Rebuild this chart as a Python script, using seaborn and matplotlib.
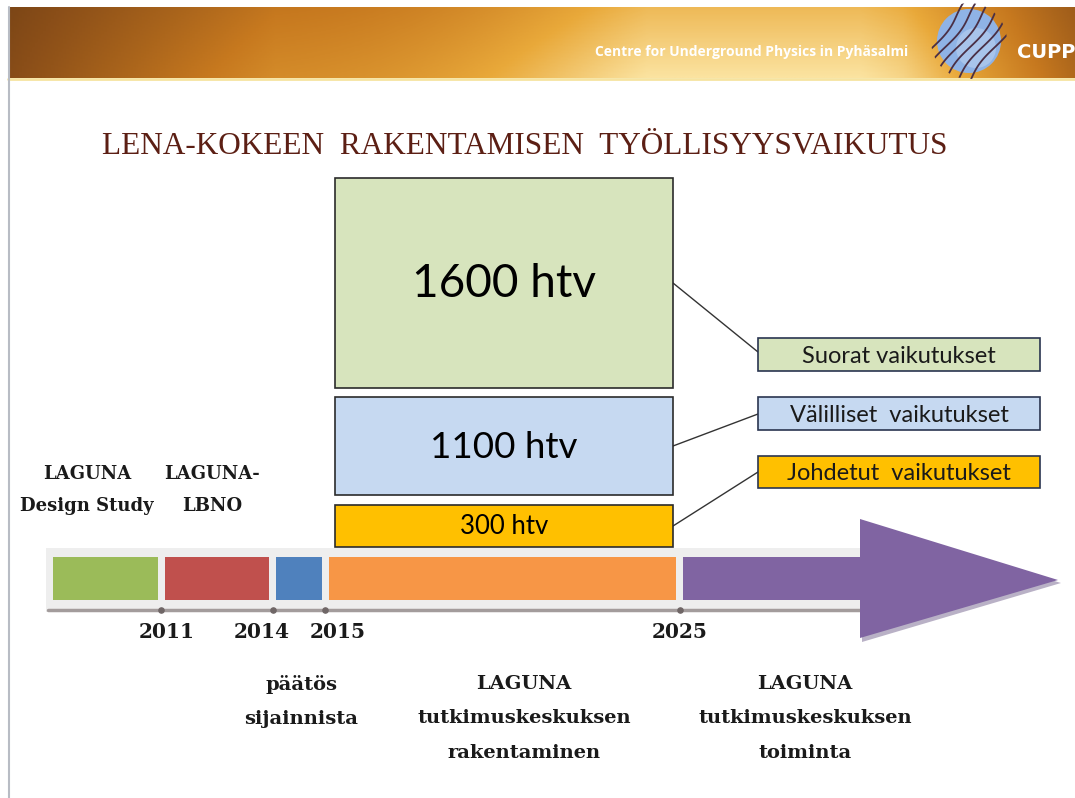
"""LENA-kokeen rakentamisen työllisyysvaikutus - timeline infographic."""

import matplotlib.pyplot as plt
import numpy as np
import seaborn as sns
from matplotlib.colors import LinearSegmentedColormap
from matplotlib.patches import Circle, Polygon, Rectangle

# ---- data -------------------------------------------------------------
title = "LENA-KOKEEN  RAKENTAMISEN  TYÖLLISYYSVAIKUTUS"
header_text = "Centre for Underground Physics in Pyhäsalmi"
logo_text = "CUPP"

impact_values = [1600, 1100, 300]
impact_unit = "htv"
impact_labels = ["Suorat vaikutukset", "Välilliset  vaikutukset", "Johdetut  vaikutukset"]

years = ["2011", "2014", "2015", "2025"]
phase_labels_top = ["LAGUNA\nDesign Study", "LAGUNA-\nLBNO"]
phase_labels_bottom = [
    "päätös\nsijainnista",
    "LAGUNA\ntutkimuskeskuksen\nrakentaminen",
    "LAGUNA\ntutkimuskeskuksen\ntoiminta",
]

# ---- layout (pixel units) ---------------------------------------------
W, H = 1075, 798
impact_colors = ["#d7e4bd", "#c6d9f1", "#ffc000"]
impact_box_x = (335, 673)
impact_box_y = [(178, 388), (397, 495), (505, 547)]
impact_font = [33, 26.5, 18.5]
legend_x = (758, 1040)
legend_y = [(338, 371), (397, 430), (456, 488)]
connectors = [((673, 283), (758, 352)), ((673, 446), (758, 414)), ((673, 526), (758, 472))]

segment_colors = ["#9bbb59", "#c0504d", "#4f81bd", "#f79646", "#8064a2"]
segment_x = [(53, 158), (165, 269), (276, 322), (329, 676), (683, 862)]
bar_y = (557, 600)
year_x = [161, 273, 325, 680]
year_label_x = [167, 262, 338, 680]
top_label_x = [87, 212]
bottom_label_x = [301, 524, 805]

serif = ["Liberation Serif", "DejaVu Serif"]
label_serif = ["DejaVu Serif"]
sans = ["Lato", "DejaVu Sans"]

sns.set_theme(style="white")
plt.rcParams["font.family"] = sans

fig = plt.figure(figsize=(W / 100, H / 100), dpi=100)
ax = fig.add_axes([0, 0, 1, 1])
ax.set_xlim(0, W)
ax.set_ylim(H, 0)
ax.axis("off")

# header band with warm gradient
hx = np.linspace(0, 1, 400)
glow = np.exp(-((hx - 0.70) / 0.24) ** 2)
base = 0.24 + 0.34 * np.clip(hx * 4, 0, 1) * (1 - np.clip((hx - 0.84) * 5, 0, 1))
row = np.clip(base + 0.5 * glow, 0, 1)
vy = np.linspace(0, 1, 60)[:, None]
grad = row[None, :] * (0.82 + 0.18 * vy)
cmap = LinearSegmentedColormap.from_list(
    "hdr", ["#4a2a10", "#8a4e18", "#c7791f", "#e9a93a", "#fbe3a0"]
)
ax.imshow(grad, cmap=cmap, vmin=0, vmax=1, extent=(8, W, 78, 7), aspect="auto", zorder=0)
ax.plot([8, W], [79, 79], color="#f6e3a0", lw=2, zorder=1)
ax.plot([9, 9], [7, H], color="#b8bcc4", lw=1.5, zorder=1)
ax.text(908, 52, header_text, color="white", fontsize=10, fontweight="bold",
        ha="right", va="center", family=["Open Sans", "DejaVu Sans"])

# logo
logo_c = (969, 41)
ax.add_patch(Circle(logo_c, 32, facecolor="#8fb3e6", edgecolor="none", zorder=2))
ax.add_patch(Circle((976, 48), 20, facecolor="#b9d0f0", edgecolor="none", alpha=0.6, zorder=2))
for off in np.linspace(-36, 26, 6):
    t = np.linspace(-45, 45, 60)
    lx = logo_c[0] + off + 0.75 * t + 3 * np.sin(t / 10)
    ly = logo_c[1] + 6 - t
    ln, = ax.plot(lx, ly, color="#4a2f45", lw=1.3, zorder=3)
    ln.set_clip_path(Circle(logo_c, 38, transform=ax.transData))
ax.text(1017, 53, logo_text, color="white", fontsize=14, fontweight="bold",
        ha="left", va="center", family=["DejaVu Sans"])

# title
ax.text(525, 147, title, color="#5c1f14", fontsize=22.5, ha="center", va="center",
        family=serif)

# stacked impact boxes and legend boxes
for value, label, color, (y0, y1), fs, (ly0, ly1), (p0, p1) in zip(
    impact_values, impact_labels, impact_colors, impact_box_y, impact_font, legend_y, connectors
):
    ax.bar(x=(impact_box_x[0] + impact_box_x[1]) / 2, height=y1 - y0, bottom=y0,
           width=impact_box_x[1] - impact_box_x[0], color=color,
           edgecolor="#2b2b2b", linewidth=1.2, zorder=2)
    ax.text((impact_box_x[0] + impact_box_x[1]) / 2, (y0 + y1) / 2 + 1,
            f"{value} {impact_unit}", fontsize=fs, color="black",
            ha="center", va="center", zorder=3)
    ax.bar(x=(legend_x[0] + legend_x[1]) / 2, height=ly1 - ly0, bottom=ly0,
           width=legend_x[1] - legend_x[0], color=color,
           edgecolor="#2a3550", linewidth=1.2, zorder=2)
    ax.text((legend_x[0] + legend_x[1]) / 2, (ly0 + ly1) / 2 + 2, label,
            fontsize=17, color="#1a1a1a", ha="center", va="center", zorder=3)
    ax.plot([p0[0], p1[0]], [p0[1], p1[1]], color="#333333", lw=1, zorder=1)

# timeline
ax.add_patch(Rectangle((46, 548), 818, 64, facecolor="#eeeeee", edgecolor="none", zorder=1))
ax.plot([48, 862], [610, 610], color="#a39c9c", lw=2.5, zorder=2)
ax.scatter(year_x, [610] * len(year_x), s=14, color="#6f6666", zorder=3)
for color, (x0, x1) in zip(segment_colors, segment_x):
    ax.barh(y=(bar_y[0] + bar_y[1]) / 2, width=x1 - x0, left=x0, height=bar_y[1] - bar_y[0],
            color=color, edgecolor="none", zorder=3)
head_shadow = Polygon([(862, 522), (1061, 583), (862, 642)], closed=True,
                      facecolor="#b9b1c6", edgecolor="none", zorder=3)
ax.add_patch(head_shadow)
head = Polygon([(860, 519), (1058, 580), (860, 638)], closed=True,
               facecolor=segment_colors[-1], edgecolor="none", zorder=4)
ax.add_patch(head)

for yr, x in zip(years, year_label_x):
    ax.text(x, 632, yr, fontsize=14.5, fontweight="bold", color="#1a1a1a",
            ha="center", va="center", family=label_serif)

for lab, x in zip(phase_labels_top, top_label_x):
    ax.text(x, 490, lab, fontsize=13, fontweight="bold", color="#1a1a1a",
            ha="center", va="center", linespacing=2.05, family=label_serif)

for lab, x in zip(phase_labels_bottom, bottom_label_x):
    ax.text(x, 675, lab, fontsize=14, fontweight="bold", color="#1a1a1a",
            ha="center", va="top", linespacing=2.17, family=label_serif)

fig.savefig("out.png", dpi=100)
